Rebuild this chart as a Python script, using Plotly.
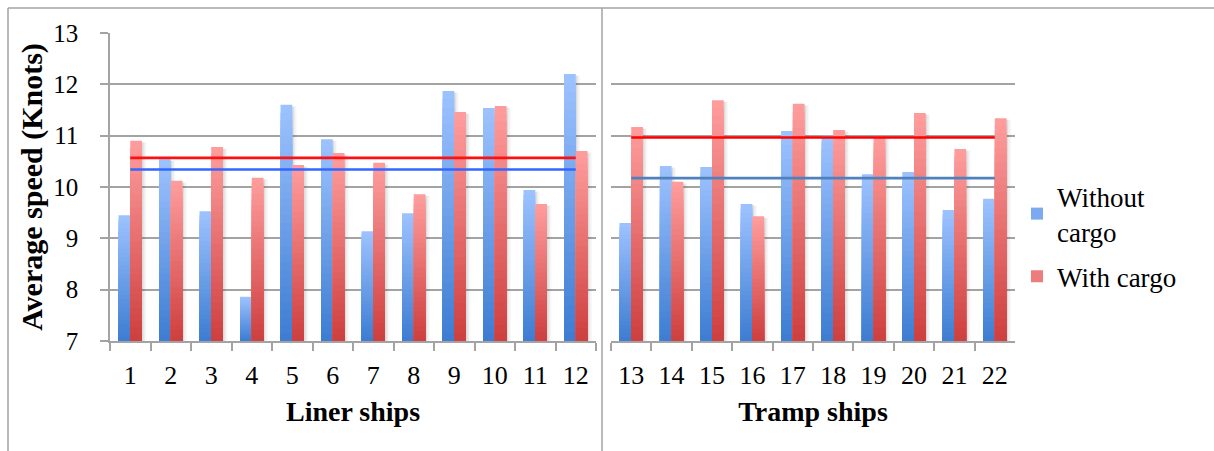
import numpy as np
import plotly.graph_objects as go

# Ship numbers (category labels)
liner_ships = ["1", "2", "3", "4", "5", "6", "7", "8", "9", "10", "11", "12"]
tramp_ships = ["13", "14", "15", "16", "17", "18", "19", "20", "21", "22"]

# Average speed in knots
liner_without = [9.45, 10.54, 9.53, 7.86, 11.60, 10.93, 9.14, 9.49, 11.87, 11.54, 9.94, 12.20]
liner_with = [10.90, 10.12, 10.78, 10.18, 10.43, 10.66, 10.47, 9.86, 11.46, 11.58, 9.67, 10.70]
tramp_without = [9.30, 10.41, 10.39, 9.67, 11.09, 11.00, 10.25, 10.29, 9.55, 9.77]
tramp_with = [11.17, 10.10, 11.69, 9.43, 11.62, 11.11, 10.99, 11.44, 10.74, 11.34]

Y_MIN, Y_MAX = 7, 13
W, H = 1214, 451
FONT = "Liberation Serif"
GRID = "#A3A3A3"

BLUE = ((60, 124, 210), (158, 195, 255))   # bottom, top
RED = ((206, 62, 62), (255, 158, 158))
N_BANDS = 30


def mix(c0, c1, t):
    r, g, b = (round(a + (b - a) * t) for a, b in zip(c0, c1))
    return f"rgb({r},{g},{b})"


fig = go.Figure()


def add_series(cats, vals, xa, ya, offset, width, colors, name, legend):
    vals = np.asarray(vals, dtype=float)
    # soft drop shadow behind the bars
    for dx, alpha in ((0.035, 0.10), (0.075, 0.06), (0.11, 0.035)):
        fig.add_trace(go.Bar(
            x=cats, y=vals - 0.03, xaxis=xa, yaxis=ya, offset=offset + dx, width=width,
            marker=dict(color=f"rgba(60,60,60,{alpha})", line=dict(width=0)),
            showlegend=False, hoverinfo="skip"))
    # vertical gradient: stacked overlays, light at the top, dark at the base
    for k in range(N_BANDS):
        f = 1 - k / N_BANDS
        t = 1 - (k + 0.5) / N_BANDS
        fig.add_trace(go.Bar(
            x=cats, y=Y_MIN + (vals - Y_MIN) * f, xaxis=xa, yaxis=ya,
            offset=offset, width=width,
            marker=dict(color=mix(colors[0], colors[1], t), line=dict(width=0)),
            name=name, legendgroup=name,
            showlegend=legend and k == N_BANDS // 3,
            hoverinfo="skip" if k else None))


def add_mean(cats, vals, xa, ya, color):
    m = float(np.mean(vals))
    fig.add_trace(go.Scatter(
        x=cats, y=[m] * len(cats), xaxis=xa, yaxis=ya, mode="lines",
        line=dict(color=color, width=2.6), showlegend=False, hoverinfo="skip"))


BW = 0.29
add_series(liner_ships, liner_without, "x", "y", -BW, BW, BLUE, "Without<br>cargo", True)
add_series(liner_ships, liner_with, "x", "y", 0.0, BW, RED, "With cargo", True)
add_series(tramp_ships, tramp_without, "x2", "y2", -BW, BW, BLUE, "Without<br>cargo", False)
add_series(tramp_ships, tramp_with, "x2", "y2", 0.0, BW, RED, "With cargo", False)

add_mean(liner_ships, liner_with, "x", "y", "#FF1010")
add_mean(liner_ships, liner_without, "x", "y", "#3366FF")
add_mean(tramp_ships, tramp_with, "x2", "y2", "#FF0000")
add_mean(tramp_ships, tramp_without, "x2", "y2", "#4F81BD")

plot_bottom, plot_top = 341, 33
ydom = [(H - plot_bottom) / H, (H - plot_top) / H]

xcommon = dict(
    type="category", tickson="boundaries", ticks="outside", ticklen=8,
    tickcolor=GRID, tickwidth=1.5, showline=True, linecolor=GRID, linewidth=1.5,
    showgrid=False, zeroline=False, ticklabelstandoff=10, automargin=False,
    tickfont=dict(family=FONT, size=26, color="black"),
)
xtitle_font = dict(family=FONT, size=28, color="black")

fig.update_layout(
    width=W, height=H,
    margin=dict(l=0, r=0, t=0, b=0, autoexpand=False),
    paper_bgcolor="white", plot_bgcolor="white",
    barmode="overlay",
    font=dict(family=FONT, color="black"),
    xaxis=dict(domain=[110 / W, 596 / W], range=[-0.5, 11.5], anchor="y",
               title=dict(text="<b>Liner ships</b>", font=xtitle_font, standoff=12),
               **xcommon),
    xaxis2=dict(domain=[611 / W, 1015 / W], range=[-0.5, 9.5], anchor="y2",
                title=dict(text="<b>Tramp ships</b>", font=xtitle_font, standoff=12),
                **xcommon),
    yaxis=dict(domain=ydom, range=[Y_MIN, Y_MAX], dtick=1, anchor="x",
               ticks="outside", ticklen=8, tickcolor=GRID, tickwidth=1.5,
               showline=True, linecolor=GRID, linewidth=1.5,
               showgrid=True, gridcolor=GRID, gridwidth=1.5, zeroline=False,
               ticklabelstandoff=17, automargin=False,
               tickfont=dict(family=FONT, size=25, color="black"),
               title=dict(text="<b>Average speed (Knots)</b>",
                          font=dict(family=FONT, size=30, color="black"), standoff=2)),
    yaxis2=dict(domain=ydom, range=[Y_MIN, Y_MAX], dtick=1, anchor="x2",
                showticklabels=False, ticks="", showline=False, automargin=False,
                showgrid=True, gridcolor=GRID, gridwidth=1.5, zeroline=False),
    legend=dict(x=1017 / W, y=(H - 172) / H, xanchor="left", yanchor="top",
                font=dict(family=FONT, size=27, color="black"),
                traceorder="grouped", tracegroupgap=7, bgcolor="rgba(0,0,0,0)",
                itemwidth=30),
    shapes=[
        dict(type="line", xref="paper", yref="paper", x0=8 / W, x1=1, y0=(H - 8) / H, y1=(H - 8) / H,
             line=dict(color=GRID, width=1.5)),
        dict(type="line", xref="paper", yref="paper", x0=8 / W, x1=8 / W, y0=0, y1=(H - 8) / H,
             line=dict(color=GRID, width=1.5)),
        dict(type="line", xref="paper", yref="paper", x0=602 / W, x1=602 / W, y0=0, y1=(H - 8) / H,
             line=dict(color=GRID, width=1.5)),
    ],
)

fig.write_html("out.html")
